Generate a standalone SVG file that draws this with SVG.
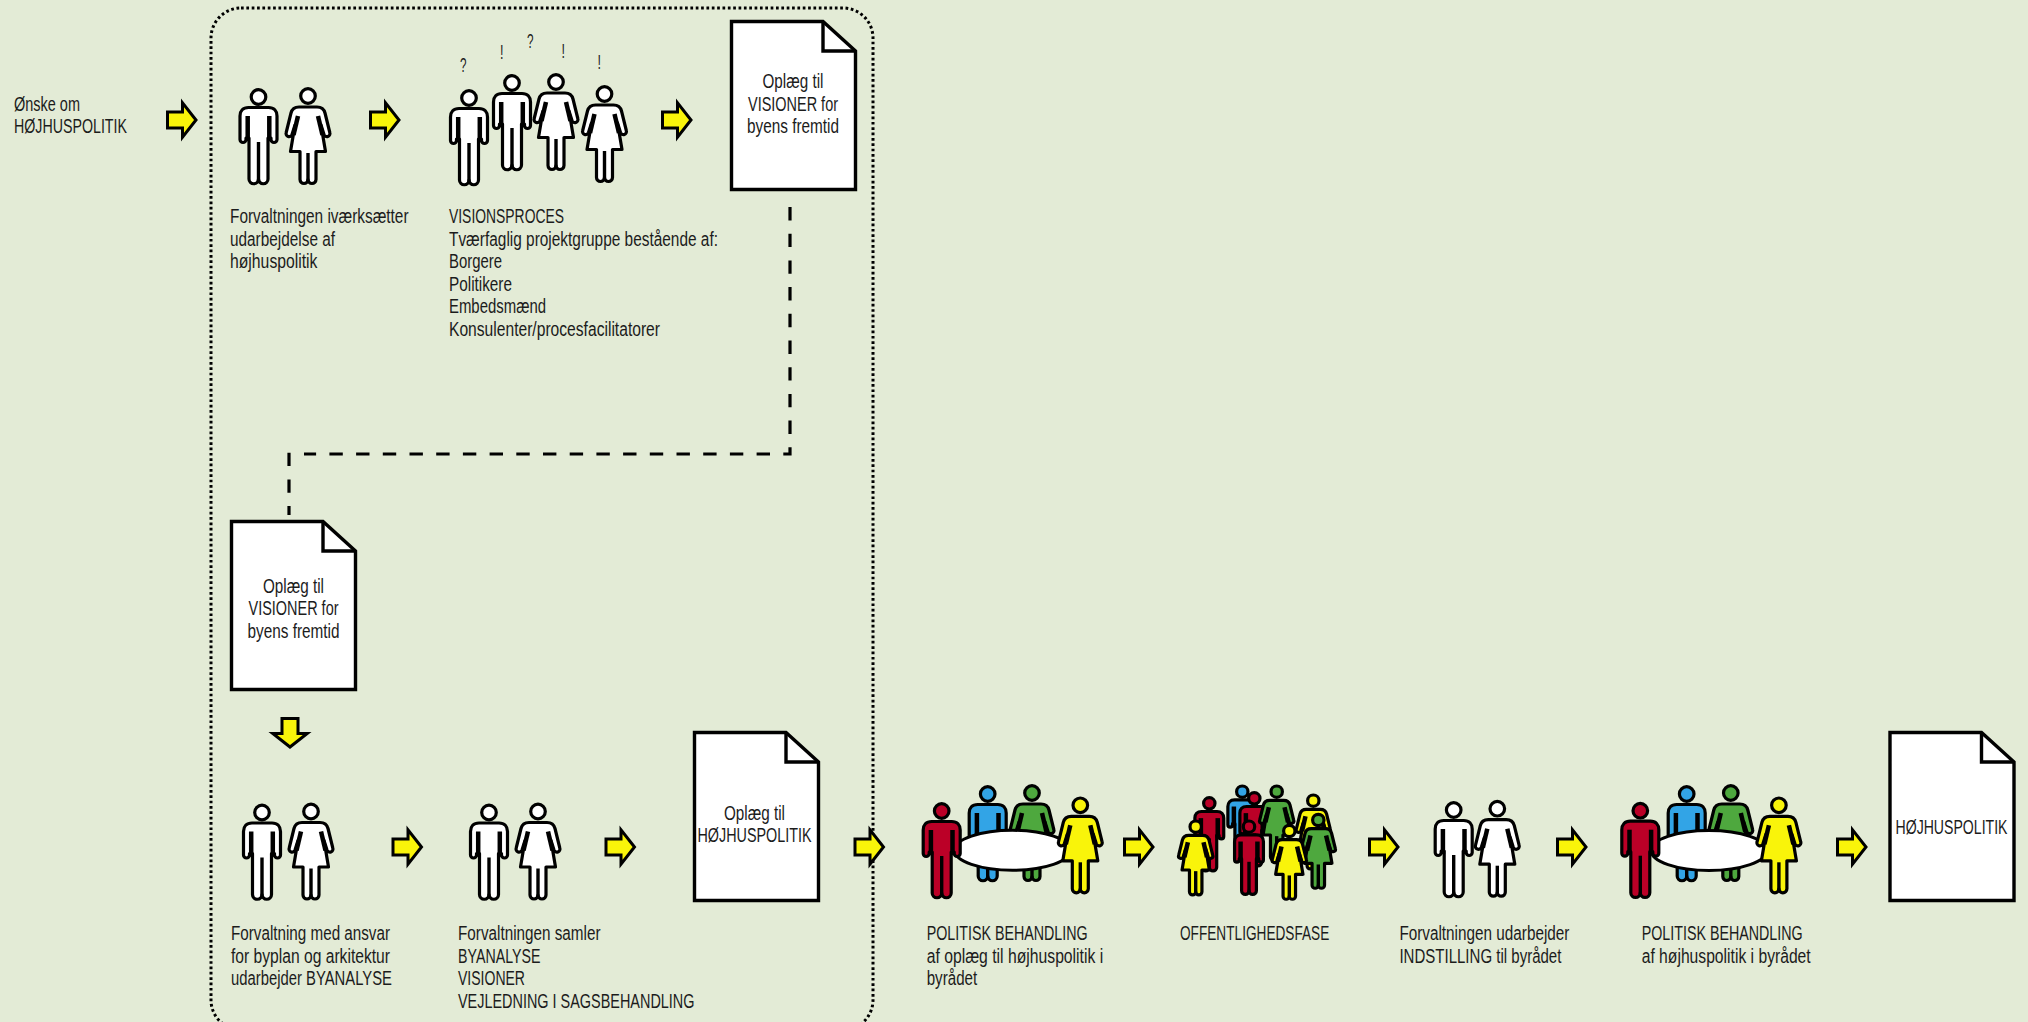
<svg xmlns="http://www.w3.org/2000/svg" width="2028" height="1022" viewBox="0 0 2028 1022">
<style>
text{font-family:"Liberation Sans",Arial,sans-serif;font-size:20px;fill:#1c1c1c}
.f{stroke:#000;stroke-width:3.2;stroke-linejoin:round;vector-effect:non-scaling-stroke}
.s{fill:none;stroke:#000;stroke-width:4.5;vector-effect:non-scaling-stroke}
.c{fill:none;stroke:#000;stroke-width:3.4;vector-effect:non-scaling-stroke}
.arrow{fill:#f9f40a;stroke:#000;stroke-width:3;stroke-linejoin:miter;stroke-miterlimit:10}
.doc{fill:#fff;stroke:#000;stroke-width:3.4;stroke-linejoin:miter}
.w{fill:#fff}.r{fill:#bb0027}.b{fill:#32a4e6}.g{fill:#4ea83e}.y{fill:#f9f40a}
.table{fill:#fff;stroke:#000;stroke-width:3}
</style>
<defs>
<g id="man">
<circle class="f" cx="0" cy="0" r="7.3"/>
<path class="f" d="M-10,10.5H10C15.500,10.500 18.500,14 18.500,19V42.500A3,3 0 0 1 12.500,42.500V41H9.500V82A4.750,4.750 0 0 1 0,82A4.750,4.750 0 0 1 -9.500,82V41H-12.500V42.500A3,3 0 0 1 -18.500,42.500V19C-18.500,14 -15.500,10.500 -10,10.500Z"/>
<path class="s" d="M-10.800,19V44"/><path class="s" d="M10.800,19V44"/><path class="c" d="M0,45V84"/>
</g>
<g id="woman">
<circle class="f" cx="0" cy="0" r="7.3"/>
<path class="f" d="M-9,11H9C13.500,11 16,13 17,17L21.800,36.500A3,3 0 0 1 16,38.500L13,29L17.500,55.500H8V83.500A4,4 0 0 1 0,83.500A4,4 0 0 1 -8,83.500V55.500H-17.500L-13,29L-16,38.500A3,3 0 0 1 -21.800,36.500L-17,17C-16,13 -13.500,11 -9,11Z"/>
<path class="s" d="M-10,20L-14.500,39"/><path class="s" d="M10,20L14.500,39"/><path class="c" d="M0,57V85"/>
</g>
<polygon id="arr" class="arrow" points="1.5,-8 16.5,-8 16.5,-17.200 30,0 16.5,17.200 16.5,8 1.5,8"/>
<g id="doc"><path class="doc" d="M1.500,1.500H93L125.500,31V169.500H1.500Z"/><path class="doc" style="fill:none" d="M93,1.500V31H125.500"/></g>
</defs>
<rect width="2028" height="1022" fill="#e3ebd6"/>

<g id="connectors">
<rect x="211" y="8" width="662" height="1022" rx="30" fill="none" stroke="#000" stroke-width="3" stroke-dasharray="2.700 2.650"/>
<path d="M790,207V454H304" fill="none" stroke="#000" stroke-width="3.200" stroke-dasharray="13.400 13.300"/>
<path d="M289,452.700V515" fill="none" stroke="#000" stroke-width="3.200" stroke-dasharray="13.400 13.300"/>
<use href="#arr" x="166" y="120"/>
<use href="#arr" x="369" y="120"/>
<use href="#arr" x="661" y="120"/>
<use href="#arr" transform="translate(290,717) rotate(90)"/>
<use href="#arr" x="391.500" y="847"/>
<use href="#arr" x="604.500" y="847"/>
<use href="#arr" x="853.500" y="847"/>
<use href="#arr" x="1123" y="847"/>
<use href="#arr" x="1368" y="847"/>
<use href="#arr" x="1556" y="847"/>
<use href="#arr" x="1836" y="847"/>
</g>

<g id="start"><text x="14" y="111" textLength="66" lengthAdjust="spacingAndGlyphs">Ønske om</text><text x="14" y="132.500" textLength="113" lengthAdjust="spacingAndGlyphs">HØJHUSPOLITIK</text></g>

<g id="n1">
<use href="#man" class="w" x="258.500" y="97"/><use href="#woman" class="w" x="308" y="96"/>
<text x="230" y="223" textLength="178.500" lengthAdjust="spacingAndGlyphs">Forvaltningen iværksætter</text>
<text x="230" y="245.500" textLength="105" lengthAdjust="spacingAndGlyphs">udarbejdelse af</text>
<text x="230" y="268" textLength="87.500" lengthAdjust="spacingAndGlyphs">højhuspolitik</text>
</g>

<g id="n2">
<use href="#man" class="w" x="469" y="98"/><use href="#man" class="w" x="512" y="83"/><use href="#woman" class="w" x="556" y="82"/><use href="#woman" class="w" x="604.500" y="94"/>
<text x="460" y="72" textLength="6.500" lengthAdjust="spacingAndGlyphs">?</text><text x="500" y="59" textLength="3.500" lengthAdjust="spacingAndGlyphs">!</text><text x="527" y="48" textLength="6.500" lengthAdjust="spacingAndGlyphs">?</text><text x="561.500" y="58" textLength="3.500" lengthAdjust="spacingAndGlyphs">!</text><text x="597.500" y="69" textLength="3.500" lengthAdjust="spacingAndGlyphs">!</text>
<text x="449" y="223" textLength="115" lengthAdjust="spacingAndGlyphs">VISIONSPROCES</text>
<text x="449" y="245.500" textLength="269" lengthAdjust="spacingAndGlyphs">Tværfaglig projektgruppe bestående af:</text>
<text x="449" y="268" textLength="53" lengthAdjust="spacingAndGlyphs">Borgere</text>
<text x="449" y="290.500" textLength="63" lengthAdjust="spacingAndGlyphs">Politikere</text>
<text x="449" y="313" textLength="97" lengthAdjust="spacingAndGlyphs">Embedsmænd</text>
<text x="449" y="335.500" textLength="211" lengthAdjust="spacingAndGlyphs">Konsulenter/procesfacilitatorer</text>
</g>

<g id="d1">
<use href="#doc" x="730" y="20"/>
<text x="762.500" y="88" textLength="61" lengthAdjust="spacingAndGlyphs">Oplæg til</text>
<text x="748" y="110.500" textLength="90" lengthAdjust="spacingAndGlyphs">VISIONER for</text>
<text x="747" y="133" textLength="92" lengthAdjust="spacingAndGlyphs">byens fremtid</text>
</g>

<g id="d2">
<use href="#doc" x="230" y="520"/>
<text x="263" y="592.500" textLength="61" lengthAdjust="spacingAndGlyphs">Oplæg til</text>
<text x="248.500" y="615" textLength="90" lengthAdjust="spacingAndGlyphs">VISIONER for</text>
<text x="247.500" y="637.500" textLength="92" lengthAdjust="spacingAndGlyphs">byens fremtid</text>
</g>

<g id="n3">
<use href="#man" class="w" x="262" y="812.500"/><use href="#woman" class="w" x="311" y="811.500"/>
<text x="231" y="940" textLength="159" lengthAdjust="spacingAndGlyphs">Forvaltning med ansvar</text>
<text x="231" y="962.500" textLength="159" lengthAdjust="spacingAndGlyphs">for byplan og arkitektur</text>
<text x="231" y="985" textLength="161" lengthAdjust="spacingAndGlyphs">udarbejder BYANALYSE</text>
</g>

<g id="n4">
<use href="#man" class="w" x="489" y="812.500"/><use href="#woman" class="w" x="538" y="811.500"/>
<text x="458" y="940" textLength="142.500" lengthAdjust="spacingAndGlyphs">Forvaltningen samler</text>
<text x="458" y="962.500" textLength="82.500" lengthAdjust="spacingAndGlyphs">BYANALYSE</text>
<text x="458" y="985" textLength="67" lengthAdjust="spacingAndGlyphs">VISIONER</text>
<text x="458" y="1007.500" textLength="236.500" lengthAdjust="spacingAndGlyphs">VEJLEDNING I SAGSBEHANDLING</text>
</g>

<g id="d3">
<use href="#doc" x="693" y="731"/>
<text x="724" y="820" textLength="61" lengthAdjust="spacingAndGlyphs">Oplæg til</text>
<text x="697.500" y="842" textLength="114" lengthAdjust="spacingAndGlyphs">HØJHUSPOLITIK</text>
</g>

<g id="n5">
<use href="#man" class="b" x="987.700" y="794"/><use href="#woman" class="g" x="1032" y="793"/>
<ellipse class="table" cx="1012.500" cy="850.300" rx="58" ry="20"/>
<use href="#man" class="r" x="941.700" y="811"/><use href="#woman" class="y" x="1080.300" y="805.300"/>
<text x="926.700" y="940" textLength="161" lengthAdjust="spacingAndGlyphs">POLITISK BEHANDLING</text>
<text x="926.700" y="962.500" textLength="176.500" lengthAdjust="spacingAndGlyphs">af oplæg til højhuspolitik i</text>
<text x="926.700" y="985" textLength="50.500" lengthAdjust="spacingAndGlyphs">byrådet</text>
</g>

<g id="n6">
<use href="#man" class="b" transform="translate(1242.300,791.700) scale(.78)"/>
<use href="#man" class="r" transform="translate(1254.300,798.300) scale(.78)"/>
<use href="#woman" class="g" transform="translate(1276.700,791.700) scale(.78)"/>
<use href="#woman" class="y" transform="translate(1313.300,800.700) scale(.78)"/>
<use href="#man" class="r" transform="translate(1209.300,803.300) scale(.78)"/>
<use href="#man" class="r" transform="translate(1249,826.700) scale(.78)"/>
<use href="#woman" class="y" transform="translate(1195.700,826.700) scale(.78)"/>
<use href="#woman" class="g" transform="translate(1318.300,820) scale(.78)"/>
<use href="#woman" class="y" transform="translate(1289.300,831) scale(.78)"/>
<text x="1180" y="940" textLength="149.300" lengthAdjust="spacingAndGlyphs">OFFENTLIGHEDSFASE</text>
</g>

<g id="n7">
<use href="#man" class="w" x="1453.700" y="810"/><use href="#woman" class="w" x="1497.300" y="808.700"/>
<text x="1399.400" y="940" textLength="170" lengthAdjust="spacingAndGlyphs">Forvaltningen udarbejder</text>
<text x="1399.400" y="962.500" textLength="162" lengthAdjust="spacingAndGlyphs">INDSTILLING til byrådet</text>
</g>

<g id="n8">
<use href="#man" class="b" x="1686.700" y="794"/><use href="#woman" class="g" x="1730.800" y="793"/>
<ellipse class="table" cx="1709" cy="850.500" rx="58" ry="20"/>
<use href="#man" class="r" x="1640.300" y="810.700"/><use href="#woman" class="y" x="1778.900" y="805.300"/>
<text x="1641.700" y="940" textLength="161" lengthAdjust="spacingAndGlyphs">POLITISK BEHANDLING</text>
<text x="1641.700" y="962.500" textLength="169" lengthAdjust="spacingAndGlyphs">af højhuspolitik i byrådet</text>
</g>

<g id="d4">
<use href="#doc" x="1888.500" y="731"/>
<text transform="translate(1895.500,834) scale(.705,1)">HØJHUSPOLITIK</text>
</g>
</svg>
